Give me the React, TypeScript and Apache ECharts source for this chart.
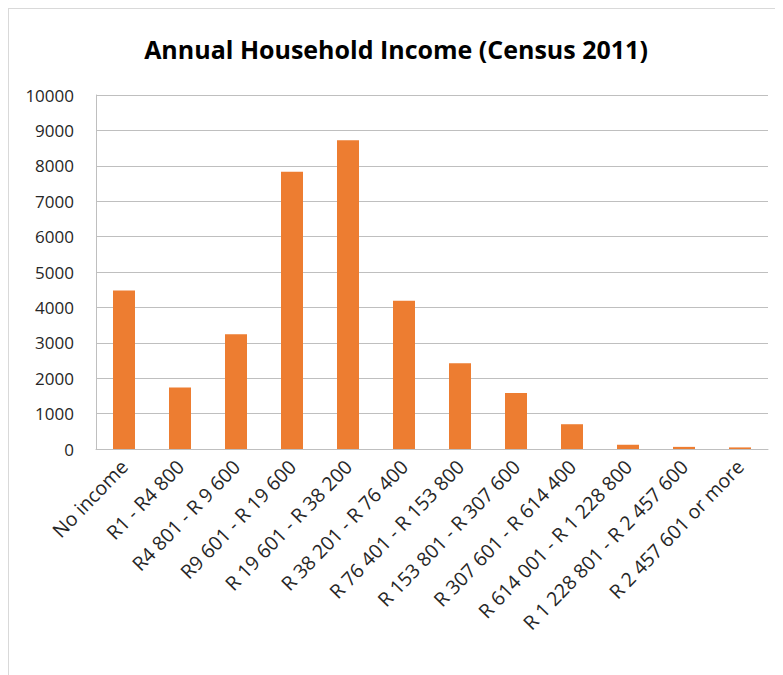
import React, { useEffect, useRef } from "react";
import * as echarts from "echarts";

const categories = [
  "No income",
  "R1 - R4 800",
  "R4 801 - R 9 600",
  "R9 601 - R 19 600",
  "R 19 601 - R 38 200",
  "R 38 201 - R 76 400",
  "R 76 401 - R 153 800",
  "R 153 801 - R 307 600",
  "R 307 601 - R 614 400",
  "R 614 001 - R 1 228 800",
  "R 1 228 801 - R 2 457 600",
  "R 2 457 601 or more",
];

const households = [4480, 1740, 3240, 7830, 8720, 4190, 2420, 1580, 700, 120, 60, 45];

const yMin = 0;
const yMax = 10000;
const yInterval = 1000;

const titleText = "Annual Household Income (Census 2011)";

export default function App() {
  const ref = useRef<HTMLDivElement>(null);
  useEffect(() => {
    if (!ref.current) return;
    const chart = echarts.init(ref.current, undefined, { renderer: "svg" });
    chart.setOption({
      animation: false,
      backgroundColor: "#ffffff",
      title: {
        text: titleText,
        left: "center",
        top: 22,
        textStyle: {
          fontFamily: "Open Sans",
          fontWeight: "bold",
          fontSize: 25,
          color: "#000000",
        },
      },
      grid: { left: 87, top: 86, right: 15, bottom: 226, containLabel: false },
      xAxis: {
        type: "category",
        data: categories,
        axisLine: { show: true, lineStyle: { color: "#bfbfbf", width: 1 } },
        axisTick: { show: false },
        axisLabel: {
          rotate: 46,
          interval: 0,
          margin: 14,
          fontFamily: "Open Sans",
          fontSize: 19.5,
          color: "#262626",
        },
      },
      yAxis: {
        type: "value",
        min: yMin,
        max: yMax,
        interval: yInterval,
        axisLine: { show: true, lineStyle: { color: "#bfbfbf", width: 1 } },
        axisTick: { show: false },
        splitLine: { show: true, lineStyle: { color: "#bfbfbf", width: 1 } },
        axisLabel: {
          margin: 22,
          fontFamily: "Open Sans",
          fontSize: 17,
          color: "#262626",
          formatter: (v: number) => String(v),
        },
      },
      series: [
        {
          type: "bar",
          data: households,
          barWidth: 22,
          itemStyle: { color: "#ED7D31" },
        },
      ],
    });
    return () => chart.dispose();
  }, []);
  return (
    <div
      ref={ref}
      style={{
        width: 775,
        height: 667,
        borderTop: "1px solid #d9d9d9",
        borderLeft: "1px solid #d9d9d9",
        boxSizing: "border-box",
      }}
    />
  );
}
